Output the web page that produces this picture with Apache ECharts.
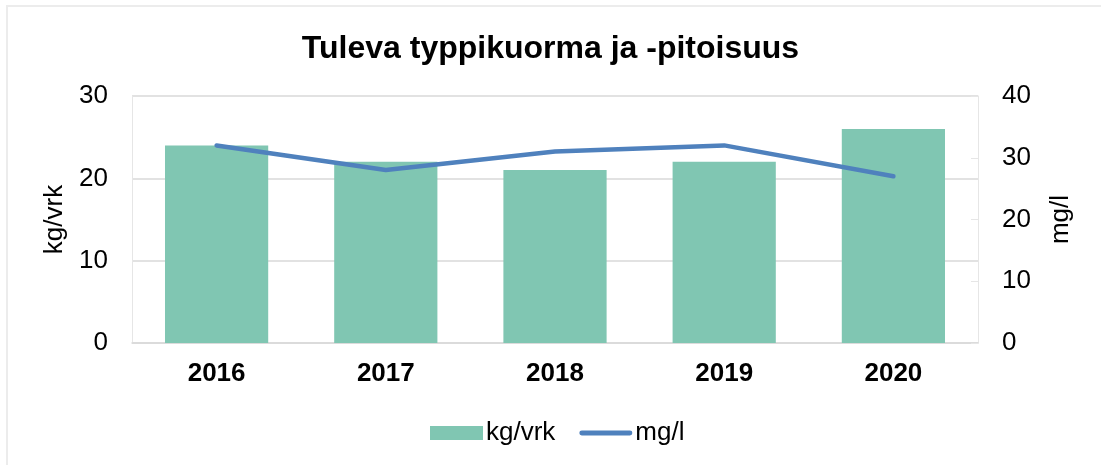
<!DOCTYPE html>
<html>
<head>
<meta charset="utf-8">
<script src="https://cdn.jsdelivr.net/npm/echarts@6/dist/echarts.min.js"></script>
<style>
  html, body { margin: 0; padding: 0; background: #fff; }
  #main { width: 1101px; height: 465px; }
</style>
</head>
<body>
<div id="main"></div>
<script>
// vuodet ja arvot
const years = ['2016', '2017', '2018', '2019', '2020'];
const kuorma = [24, 22, 21, 22, 26];   // kg/vrk
const pitoisuus = [32, 28, 31, 32, 27]; // mg/l

const chart = echarts.init(document.getElementById('main'));
const font = 'Liberation Sans, Arial, sans-serif';

chart.setOption({
  animation: false,
  graphic: [{
    type: 'rect',
    shape: { x: 7, y: 6, width: 1200, height: 600 },
    style: { fill: 'none', stroke: '#ececec', lineWidth: 2 }
  }],
  title: {
    text: 'Tuleva typpikuorma ja -pitoisuus',
    left: 'center',
    top: 28,
    textStyle: { fontFamily: font, fontSize: 32, fontWeight: 'bold', color: '#000' }
  },
  grid: { left: 132, right: 123, top: 96, bottom: 122 },
  legend: {
    top: 415,
    left: 425,
    itemGap: 24,
    itemWidth: 53,
    itemHeight: 14,
    textStyle: { fontFamily: font, fontSize: 26, color: '#000', padding: [0, 0, 0, -2] },
    data: [
      { name: 'kg/vrk', icon: 'rect' },
      // ohut viiva legendaan
      { name: 'mg/l', icon: 'path://M2,0H51A2,2,0,0,1,51,5H2A2,2,0,0,1,2,0Z', itemStyle: { color: '#4f81bd' } }
    ]
  },
  xAxis: {
    type: 'category',
    data: years,
    axisLine: { lineStyle: { color: '#d9d9d9', width: 1.5 } },
    axisTick: { show: false },
    axisLabel: { fontFamily: font, fontSize: 26, fontWeight: 'bold', color: '#000', margin: 18 }
  },
  yAxis: [{
    type: 'value',
    min: 0, max: 30, interval: 10,
    name: 'kg/vrk',
    nameLocation: 'middle',
    nameGap: 64,
    nameTextStyle: { fontFamily: font, fontSize: 26, color: '#000' },
    axisLine: { show: true, lineStyle: { color: '#e6e6e6' } },
    axisTick: { show: false },
    axisLabel: { fontFamily: font, fontSize: 26, color: '#000', margin: 24 },
    splitLine: { lineStyle: { color: '#d9d9d9', width: 1.5 } }
  }, {
    type: 'value',
    min: 0, max: 40, interval: 10,
    name: 'mg/l',
    nameLocation: 'middle',
    nameGap: 70,
    nameTextStyle: { fontFamily: font, fontSize: 26, color: '#000' },
    axisLine: { show: true, lineStyle: { color: '#e6e6e6' } },
    axisTick: { show: true, inside: true, length: 7, lineStyle: { color: '#e6e6e6' } },
    axisLabel: { fontFamily: font, fontSize: 26, color: '#000', margin: 24 },
    splitLine: { show: false }
  }],
  series: [{
    name: 'kg/vrk',
    type: 'bar',
    yAxisIndex: 0,
    barWidth: '61%',
    itemStyle: { color: '#80c6b2' },
    data: kuorma
  }, {
    name: 'mg/l',
    type: 'line',
    yAxisIndex: 1,
    symbol: 'none',
    lineStyle: { color: '#4f81bd', width: 4.5, cap: 'round' },
    itemStyle: { color: '#4f81bd' },
    data: pitoisuus
  }]
});
</script>
</body>
</html>
